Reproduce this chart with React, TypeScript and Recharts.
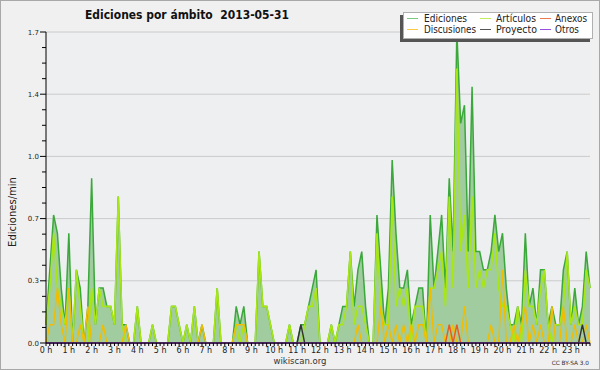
import { ComposedChart, Area, Line, XAxis, YAxis, CartesianGrid } from "recharts"

// one value per 10 minutes, 6 per hour, 24 hours
const ediciones = [
  0.1, 0.4, 0.7, 0.6, 0.3, 0.1,
  0.6, 0, 0.4, 0.3, 0, 0.2,
  0.9, 0.1, 0.3, 0.3, 0.2, 0.2,
  0.1, 0.8, 0.1, 0.1, 0, 0,
  0.2, 0, 0, 0, 0.1, 0,
  0, 0, 0, 0.2, 0.2, 0.1,
  0, 0.1, 0, 0.2, 0, 0.1,
  0, 0, 0, 0.3, 0, 0,
  0, 0, 0.2, 0.1, 0.2, 0,
  0, 0, 0.5, 0.2, 0.2, 0.1,
  0, 0, 0, 0, 0.1, 0,
  0, 0.1, 0.1, 0.2, 0.3, 0.4,
  0, 0, 0, 0.1, 0, 0.1,
  0.2, 0.2, 0.5, 0.2, 0.4, 0.5,
  0.2, 0, 0, 0.7, 0.4, 0.1,
  0.3, 1.0, 0.6, 0.3, 0.3, 0.4,
  0.1, 0.2, 0.3, 0.3, 0, 0.7,
  0.3, 0.5, 0.7, 0.3, 0.9, 0.5,
  1.7, 1.2, 1.3, 0.5, 1.4, 0.5,
  0.5, 0.4, 0.4, 0.5, 0.7, 0.5,
  0.6, 0.3, 0.1, 0.1, 0.2, 0.1,
  0.6, 0.2, 0.3, 0.1, 0.4, 0.4,
  0.1, 0.2, 0.1, 0.1, 0.4, 0.5,
  0.1, 0.3, 0.1, 0.2, 0.5, 0.3,
]

const articulos = [
  0.1, 0.3, 0.6, 0.3, 0.2, 0.1,
  0.3, 0, 0.4, 0.2, 0, 0,
  0.3, 0.1, 0.3, 0.2, 0.2, 0.2,
  0.1, 0.8, 0.1, 0, 0, 0,
  0.2, 0, 0, 0, 0.1, 0,
  0, 0, 0, 0.2, 0.2, 0.1,
  0, 0.1, 0, 0.2, 0, 0,
  0, 0, 0, 0.3, 0, 0,
  0, 0, 0.1, 0, 0.1, 0,
  0, 0, 0.5, 0.2, 0.2, 0.1,
  0, 0, 0, 0, 0.1, 0,
  0, 0, 0.1, 0.2, 0.2, 0.3,
  0, 0, 0, 0.1, 0, 0.1,
  0.1, 0.2, 0.5, 0.1, 0.2, 0.2,
  0.1, 0, 0, 0.6, 0.2, 0.1,
  0.1, 0.8, 0.2, 0.3, 0.2, 0.3,
  0, 0.2, 0.2, 0.2, 0, 0.3,
  0.3, 0.4, 0.5, 0.2, 0.8, 0.3,
  1.5, 0.5, 0.7, 0.3, 0.8, 0.3,
  0.4, 0.3, 0.4, 0.4, 0.6, 0.3,
  0.2, 0.2, 0.1, 0, 0.2, 0,
  0.4, 0.2, 0.2, 0.1, 0.3, 0.4,
  0.1, 0, 0.1, 0.1, 0.2, 0.5,
  0.1, 0.2, 0.1, 0.1, 0.4, 0.3,
]

const discusiones = [
  0, 0.1, 0.1, 0.3, 0.1, 0,
  0.3, 0, 0, 0.1, 0, 0.2,
  0, 0, 0, 0.1, 0, 0,
  0, 0, 0, 0.1, 0, 0,
  0, 0, 0, 0, 0, 0,
  0, 0, 0, 0, 0, 0,
  0, 0, 0, 0, 0, 0.1,
  0, 0, 0, 0, 0, 0,
  0, 0, 0.1, 0.1, 0.1, 0,
  0, 0, 0, 0, 0, 0,
  0, 0, 0, 0, 0, 0,
  0, 0, 0, 0, 0, 0,
  0, 0, 0, 0, 0, 0,
  0, 0, 0, 0, 0.1, 0,
  0, 0, 0, 0, 0.2, 0,
  0.1, 0, 0.1, 0, 0.1, 0,
  0.1, 0, 0.1, 0.1, 0, 0.3,
  0, 0.1, 0.1, 0, 0, 0.1,
  0, 0, 0.2, 0, 0, 0,
  0, 0, 0, 0.1, 0, 0,
  0.4, 0, 0, 0.1, 0, 0.1,
  0.2, 0, 0.1, 0, 0.1, 0,
  0, 0.2, 0, 0, 0.2, 0,
  0, 0.1, 0, 0, 0.1, 0,
]

// sparse series: slot index -> value
const anexosAt: Record<number, number> = { 106: 0.1, 108: 0.1 }
const proyectoAt: Record<number, number> = { 67: 0.1, 141: 0.1 }
const otrosAt: Record<number, number> = {}

const hourLabels = Array.from({ length: 24 }, (_, h) => `${h} h`)
const yMajor = [0, 0.34, 0.68, 1.02, 1.36, 1.7]
const yLabels = ["0.0", "0.3", "0.7", "1.0", "1.4", "1.7"]

const slots = ediciones.map((_, i) => i)
const yTicks = yMajor.flatMap((v, k) =>
  k === yMajor.length - 1 ? [v] : [0, 1, 2, 3].map((q) => v + (q * (yMajor[k + 1] - v)) / 4)
)

const data = slots.map((i) => ({
  i,
  ediciones: ediciones[i],
  articulos: articulos[i],
  discusiones: discusiones[i],
  anexos: anexosAt[i] ?? 0,
  proyecto: proyectoAt[i] ?? 0,
  otros: otrosAt[i] ?? 0,
}))

const colors = {
  ediciones: "#3aa83a",
  edicionesFill: "#a0cca0",
  articulos: "#a8e614",
  discusiones: "#f2bc00",
  anexos: "#e85a20",
  proyecto: "#333333",
  otros: "#9b4de0",
}

// legend layout: line start, text start, text width
const legendItems = [
  { name: "Ediciones", color: "#7cc87c", x: 407, tx: 424, w: 43, row: 0 },
  { name: "Artículos", color: "#c2ec5a", x: 480, tx: 496, w: 40, row: 0 },
  { name: "Anexos", color: "#ee7a50", x: 540, tx: 555, w: 32, row: 0 },
  { name: "Discusiones", color: "#fbcb48", x: 407, tx: 424, w: 52, row: 1 },
  { name: "Proyecto", color: "#555", x: 480, tx: 496, w: 41, row: 1 },
  { name: "Otros", color: colors.otros, x: 540, tx: 555, w: 24, row: 1 },
]

const font = "DejaVu Sans, sans-serif"

function XTick({ x, y, payload }: any) {
  const v = payload.value
  const major = v % 6 === 0
  return (
    <g>
      <line x1={x} x2={x} y1={y} y2={y + 3} stroke="#000" />
      {major && (
        <text x={x} y={y + 10} textAnchor="middle" fontSize={8} fill="#222" fontFamily={font}>
          {hourLabels[v / 6]}
        </text>
      )}
    </g>
  )
}

function YTick({ x, y, payload, index }: any) {
  const major = index % 4 === 0
  return (
    <g>
      <line x1={major ? x - 6 : x - 4} x2={x} y1={y} y2={y} stroke="#000" />
      {major && (
        <text x={x - 7} y={y + 2.5} textAnchor="end" fontSize={7} fill="#222" fontFamily={font}>
          {yLabels[index / 4]}
        </text>
      )}
    </g>
  )
}

export default function App() {
  return (
    <div style={{ position: "fixed", left: 0, top: 0, width: 600, height: 370, background: "#f0f0f0" }}>
      <ComposedChart width={600} height={370} data={data} margin={{ top: 32, right: 10, bottom: 0, left: 0 }}>
        <CartesianGrid vertical={false} horizontalValues={yMajor} stroke="#cbcbcb" fill="#eeeff1" />
        <XAxis
          type="number"
          dataKey="i"
          domain={[0, 143]}
          ticks={slots}
          interval={0}
          height={27}
          tickSize={0}
          tickMargin={0}
          tickLine={false}
          axisLine={{ stroke: "#000" }}
          tick={<XTick />}
        />
        <YAxis
          type="number"
          domain={[0, 1.7]}
          ticks={yTicks}
          interval={0}
          width={46}
          tickSize={0}
          tickMargin={0}
          tickLine={false}
          axisLine={{ stroke: "#000" }}
          tick={<YTick />}
        />
        <Area
          type="linear"
          dataKey="ediciones"
          stroke={colors.ediciones}
          strokeWidth={1.5}
          fill={colors.edicionesFill}
          fillOpacity={1}
          dot={false}
          activeDot={false}
          isAnimationActive={false}
        />
        <Line type="linear" dataKey="articulos" stroke={colors.articulos} strokeWidth={1.6} dot={false} activeDot={false} isAnimationActive={false} />
        <Line type="linear" dataKey="discusiones" stroke={colors.discusiones} strokeWidth={1.4} dot={false} activeDot={false} isAnimationActive={false} />
        <Line type="linear" dataKey="anexos" stroke={colors.anexos} strokeWidth={1.4} dot={false} activeDot={false} isAnimationActive={false} />
        <Line type="linear" dataKey="proyecto" stroke={colors.proyecto} strokeWidth={1.4} dot={false} activeDot={false} isAnimationActive={false} />
        <Line type="linear" dataKey="otros" stroke={colors.otros} strokeWidth={1.4} dot={false} activeDot={false} isAnimationActive={false} />
      </ComposedChart>

      <svg width={600} height={370} style={{ position: "absolute", left: 0, top: 0, pointerEvents: "none" }} fontFamily={font}>
        <rect x={0.5} y={0.5} width={599} height={369} fill="none" stroke="#a8a8a8" />
        <text x={85} y={19} fontSize={13} fontWeight="bold" fill="#111" textLength={204} lengthAdjust="spacingAndGlyphs" style={{ whiteSpace: "pre" }}>
          Ediciones por ámbito  2013-05-31
        </text>
        <text transform="translate(16,212) rotate(-90)" textAnchor="middle" fontSize={10} fill="#222">
          Ediciones/min
        </text>
        <text x={300} y={364} textAnchor="middle" fontSize={8.5} fill="#333">wikiscan.org</text>
        <text x={589} y={365} textAnchor="end" fontSize={5.8} fill="#333">CC BY-SA 3.0</text>

        <rect x={400} y={15} width={190} height={27} fill="#555" />
        <rect x={403.5} y={12.5} width={189} height={26} fill="#fff" stroke="#b0b0b0" />
        {legendItems.map((it) => (
          <g key={it.name}>
            <line x1={it.x} x2={it.x + 11} y1={18.5 + it.row * 11} y2={18.5 + it.row * 11} stroke={it.color} />
            <text x={it.tx} y={22 + it.row * 11} fontSize={10} fill="#222" textLength={it.w} lengthAdjust="spacingAndGlyphs">
              {it.name}
            </text>
          </g>
        ))}
      </svg>
    </div>
  )
}
